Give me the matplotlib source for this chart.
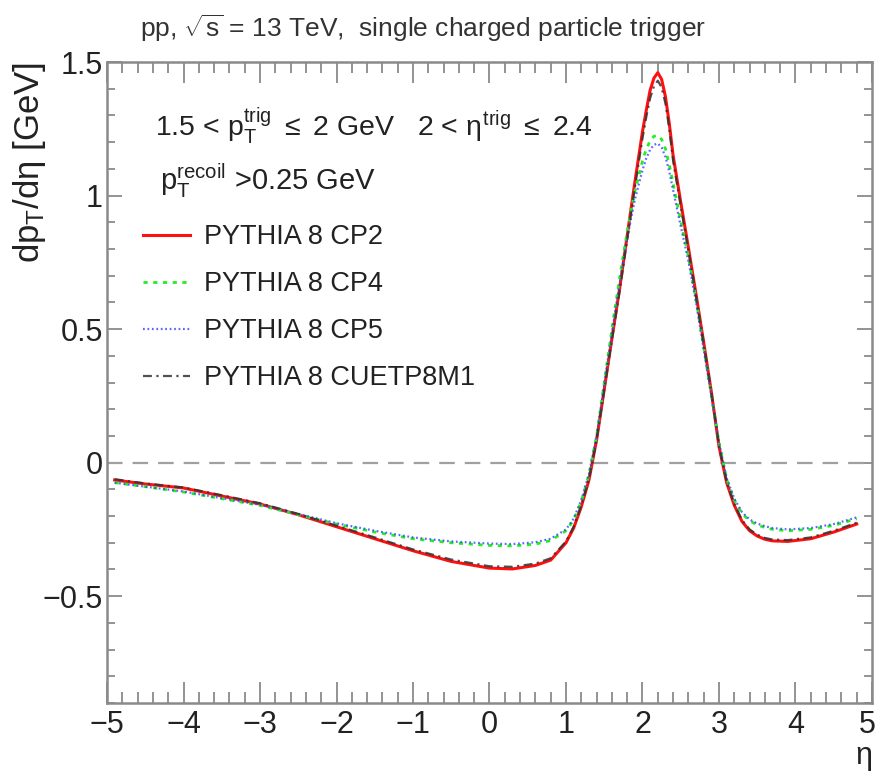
import matplotlib
matplotlib.use("Agg")
import matplotlib.pyplot as plt
import matplotlib.transforms as mtransforms
from matplotlib.ticker import MultipleLocator

plt.rcParams['font.family'] = ['Liberation Sans', 'DejaVu Sans']
plt.rcParams['mathtext.fontset'] = 'custom'
plt.rcParams['mathtext.rm'] = 'Liberation Sans'
plt.rcParams['mathtext.it'] = 'Liberation Sans'
plt.rcParams['mathtext.bf'] = 'Liberation Sans:bold'

# ---- data ----
eta = [-4.9, -4.5, -4.0, -3.5, -3.0, -2.5, -2.0, -1.5, -1.0, -0.5, 0.0, 0.3, 0.6, 0.8,
       1.0, 1.1, 1.2, 1.3, 1.4, 1.5, 1.6, 1.7, 1.8, 1.9, 2.0, 2.05, 2.1, 2.15, 2.2, 2.25,
       2.3, 2.35, 2.4, 2.5, 2.6, 2.7, 2.8, 2.9, 3.0, 3.1, 3.2, 3.3, 3.4, 3.5, 3.6, 3.7,
       3.9, 4.2, 4.5, 4.8]

cp2 = [-0.065, -0.080, -0.095, -0.125, -0.155, -0.195, -0.240, -0.285, -0.330, -0.370,
       -0.395, -0.398, -0.385, -0.365, -0.300, -0.245, -0.165, -0.065, 0.085, 0.275,
       0.465, 0.650, 0.850, 1.050, 1.240, 1.320, 1.395, 1.440, 1.460, 1.435,
       1.370, 1.270, 1.150, 0.975, 0.805, 0.630, 0.450, 0.265, 0.060, -0.075,
       -0.160, -0.220, -0.255, -0.275, -0.287, -0.293, -0.295, -0.285, -0.260, -0.230]

cp4 = [-0.075, -0.090, -0.110, -0.135, -0.160, -0.195, -0.230, -0.260, -0.285, -0.300,
       -0.310, -0.312, -0.305, -0.292, -0.255, -0.215, -0.145, -0.045, 0.100, 0.300,
       0.500, 0.690, 0.865, 1.015, 1.130, 1.175, 1.205, 1.222, 1.225, 1.210,
       1.175, 1.115, 1.045, 0.905, 0.770, 0.610, 0.430, 0.255, 0.075, -0.060,
       -0.140, -0.190, -0.218, -0.233, -0.243, -0.250, -0.255, -0.250, -0.235, -0.210]

cp5 = [-0.075, -0.090, -0.108, -0.133, -0.158, -0.192, -0.227, -0.255, -0.280, -0.295,
       -0.303, -0.305, -0.298, -0.285, -0.250, -0.210, -0.140, -0.043, 0.098, 0.295,
       0.485, 0.670, 0.840, 0.985, 1.095, 1.140, 1.172, 1.190, 1.195, 1.180,
       1.145, 1.090, 1.020, 0.885, 0.755, 0.600, 0.425, 0.250, 0.075, -0.058,
       -0.135, -0.185, -0.213, -0.228, -0.238, -0.245, -0.250, -0.245, -0.230, -0.205]

cuetp8m1 = [-0.062, -0.078, -0.093, -0.122, -0.152, -0.192, -0.236, -0.280, -0.325, -0.363,
            -0.388, -0.390, -0.378, -0.358, -0.295, -0.240, -0.160, -0.062, 0.085, 0.272,
            0.460, 0.640, 0.835, 1.030, 1.215, 1.295, 1.365, 1.410, 1.430, 1.405,
            1.345, 1.250, 1.130, 0.960, 0.795, 0.622, 0.445, 0.265, 0.062, -0.072,
            -0.155, -0.215, -0.250, -0.270, -0.282, -0.288, -0.290, -0.280, -0.255, -0.225]

labels = ["PYTHIA 8 CP2", "PYTHIA 8 CP4", "PYTHIA 8 CP5", "PYTHIA 8 CUETP8M1"]
xticks = [-5, -4, -3, -2, -1, 0, 1, 2, 3, 4, 5]
yticks = [-0.5, 0, 0.5, 1, 1.5]
ytick_labels = ["\u22120.5", "0", "0.5", "1", "1.5"]

# ---- figure ----
fig = plt.figure(figsize=(8.79, 7.77), dpi=100)
ax = fig.add_axes([107/879, 1-703/777, (872-107)/879, (703-62)/777])

ax.axhline(0, color='#a0a0a0', lw=1.6, dashes=(7, 4.5))

l1, = ax.plot(eta, cp2, color='#ff1010', lw=2.2, ls='-')
l2, = ax.plot(eta, cp4, color='#22ee22', lw=2.0, dashes=(1.5, 2.0))
l3, = ax.plot(eta, cp5, color='#3344ff', lw=1.6, dashes=(0.8, 1.2), alpha=0.8)
l4, = ax.plot(eta, cuetp8m1, color='#333333', lw=1.6, dashes=(4, 2, 1, 2), alpha=0.85)

ax.set_xlim(-5, 5)
ax.set_ylim(-0.9, 1.5)
ax.set_xticks(xticks)
ax.set_xticklabels([("\u2212%d" % -v) if v < 0 else "%d" % v for v in xticks])
ax.set_yticks(yticks)
ax.set_yticklabels(ytick_labels)
ax.xaxis.set_minor_locator(MultipleLocator(0.2))
ax.yaxis.set_minor_locator(MultipleLocator(0.1))

for s in ax.spines.values():
    s.set_color('#8a8a8a')
    s.set_linewidth(1.8)
ax.tick_params(axis='x', which='major', direction='in', length=15, width=1.3,
               color='#8a8a8a', top=True, labelsize=22, labelcolor='#222222', pad=5)
ax.tick_params(axis='x', which='minor', direction='in', length=8, width=1.3,
               color='#8a8a8a', top=True)
ax.tick_params(axis='y', which='major', direction='in', length=11, width=1.3,
               color='#8a8a8a', right=True, labelsize=22, labelcolor='#222222', pad=3)
ax.tick_params(axis='y', which='minor', direction='in', length=6, width=1.3,
               color='#8a8a8a', right=True)

# nudge the last x tick label so it stays inside the figure
last = ax.get_xticklabels()[-1]
last.set_transform(last.get_transform() +
                   mtransforms.ScaledTranslation(-5/100, 0, fig.dpi_scale_trans))

ax.set_xlabel(r"$\eta$", fontsize=22, color='#222222', loc='right', labelpad=2)
fig.text(30/879, 1-62/777, r"dp$_{\rm T}$/d$\eta$ [GeV]", rotation=90,
         fontsize=25, color='#222222', ha='center', va='top')

fig.text(140/879, 1-28/777, r"pp, $\sqrt{\rm s}$ = 13 TeV,  single charged particle trigger",
         fontsize=19, color='#333333', va='center', ha='left')

fig.text(155/879, 1-126/777,
         r"1.5 < p$_{\rm T}^{\rm trig}$ $\leq$ 2 GeV   2 < $\eta^{\rm trig}$ $\leq$ 2.4",
         fontsize=20.5, color='#222222', va='center', ha='left')
fig.text(160/879, 1-181/777, r"p$_{\rm T}^{\rm recoil}$ >0.25 GeV",
         fontsize=21, color='#222222', va='center', ha='left')

leg = ax.legend([l1, l2, l3, l4], labels, loc='upper left',
                bbox_to_anchor=((143-107)/765, (703-224)/641),
                frameon=False, fontsize=19.5, handlelength=1.75, handletextpad=0.5,
                labelspacing=0.78, borderaxespad=0, borderpad=0)
for t in leg.get_texts():
    t.set_color('#222222')

fig.savefig("out.png", dpi=100)
